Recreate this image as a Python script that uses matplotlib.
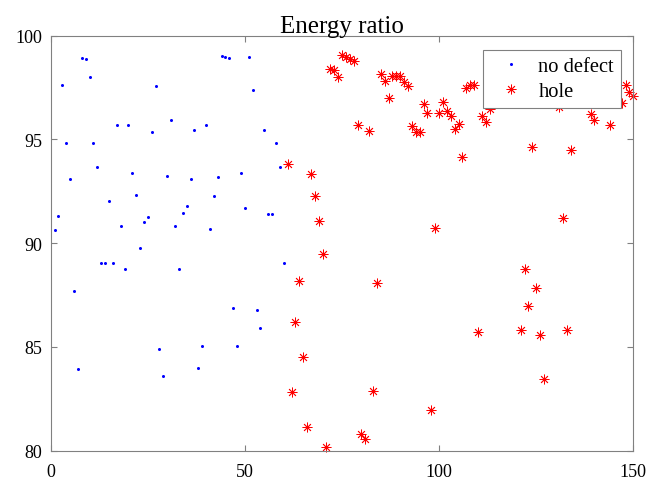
import numpy as np
import matplotlib
matplotlib.use("Agg")
import matplotlib.pyplot as plt

# energy ratio per sample
blue_x = list(range(1, 61))
blue_y = [90.66, 91.29, 97.64, 94.81, 93.10, 87.68, 83.96, 98.91, 98.88, 98.01,
          94.81, 93.65, 89.04, 89.06, 92.03, 89.06, 95.69, 90.81, 88.77, 95.69,
          93.39, 92.33, 89.76, 91.02, 91.24, 95.34, 97.57, 84.88, 83.61, 93.24,
          95.94, 90.81, 88.77, 91.45, 91.80, 93.10, 95.47, 83.98, 85.07, 95.68,
          90.70, 92.27, 93.19, 99.04, 98.97, 98.94, 86.89, 85.07, 93.39, 91.69,
          98.97, 97.40, 86.77, 85.91, 95.45, 91.42, 91.42, 94.81, 93.65, 89.04]

red_x = [61, 62, 63, 64, 65, 66, 67, 68, 69, 70,
         71, 72, 73, 74, 75, 76, 77, 78, 79, 80,
         81, 82, 83, 84, 85, 86, 87, 88, 89, 90,
         91, 92, 93, 94, 95, 96, 97, 98, 99, 100,
         101, 102, 103, 104, 105, 106, 107, 108, 109, 110,
         111, 112, 113, 121, 122, 123, 124, 125, 126, 127,
         131, 132, 133, 134, 135, 139, 140, 144, 147, 148,
         149, 150]
red_y = [93.80, 82.81, 86.19, 88.16, 84.51, 81.13, 93.32, 92.27, 91.07, 89.47,
         80.17, 98.39, 98.36, 98.02, 99.07, 98.97, 98.88, 98.78, 95.69, 80.81,
         80.56, 95.40, 82.87, 88.08, 98.15, 97.82, 97.00, 98.04, 98.04, 98.04,
         97.78, 97.57, 95.63, 95.37, 95.37, 96.69, 96.29, 81.95, 90.74, 96.26,
         96.79, 96.37, 96.14, 95.50, 95.76, 94.15, 97.49, 97.61, 97.62, 85.71,
         96.14, 95.82, 96.47, 85.80, 88.78, 86.95, 94.63, 87.83, 85.57, 83.45,
         96.55, 91.21, 85.82, 94.50, 96.85, 96.22, 95.92, 95.68, 96.77, 97.61,
         97.30, 97.11]

x_ticks = [0, 50, 100, 150]
y_ticks = [80, 85, 90, 95, 100]

plt.rcParams['font.family'] = ['Liberation Serif', 'DejaVu Serif']

fig = plt.figure(figsize=(6.51, 4.81), dpi=100)
ax = fig.add_axes([0.0779, 0.0609, 0.8949, 0.8628])

ax.plot(blue_x, blue_y, linestyle='none', marker='o', markersize=2.2,
        color='#0000ff', markeredgewidth=0, label='no defect', clip_on=False)
ax.plot(red_x, red_y, linestyle='none', marker=(8, 2, 0), markersize=7,
        color='#ff0000', markeredgewidth=0.6, label='hole', clip_on=False)

ax.set_xlim(0, 150)
ax.set_ylim(80, 100)
ax.set_xticks(x_ticks)
ax.set_yticks(y_ticks)

axis_gray = '#808080'
for spine in ax.spines.values():
    spine.set_color(axis_gray)
    spine.set_linewidth(0.8)
ax.tick_params(direction='in', length=4.3, width=0.8, color=axis_gray,
               labelcolor='black', labelsize=13, top=True, right=True)
ax.tick_params(axis='x', pad=8.5)
ax.tick_params(axis='y', pad=6)

ax.set_title('Energy ratio', fontsize=18, pad=3)

leg = ax.legend(loc='upper right', bbox_to_anchor=(0.9794, 0.9663),
                borderaxespad=0, fontsize=14.8, numpoints=1,
                handlelength=2.0, handletextpad=0.35, borderpad=0.35,
                labelspacing=0.25, fancybox=False, framealpha=1)
leg.get_frame().set_edgecolor(axis_gray)
leg.get_frame().set_linewidth(0.8)

fig.savefig('out.png', dpi=100, facecolor='white')
